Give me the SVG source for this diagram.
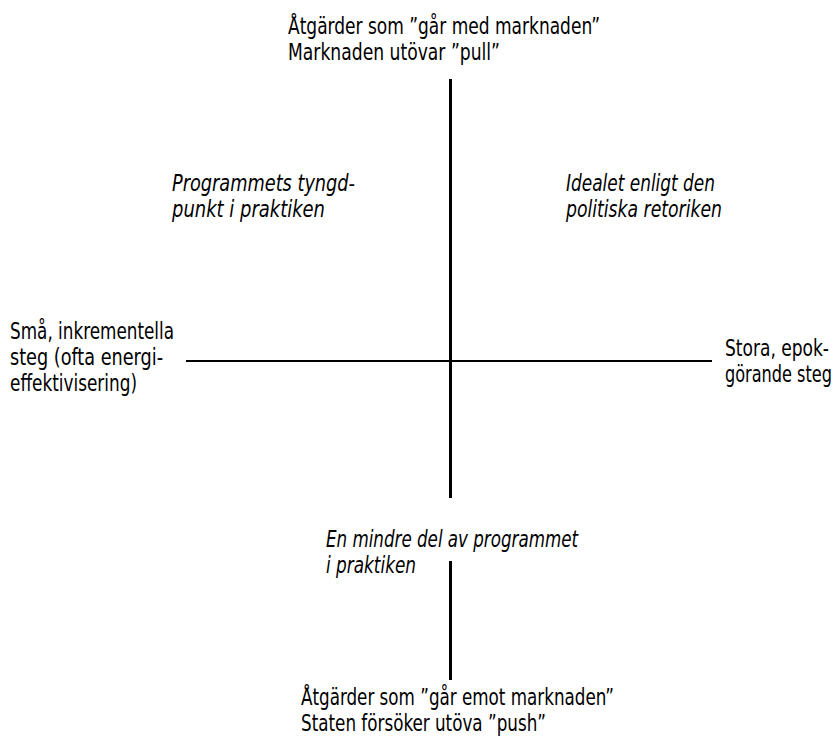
<svg xmlns="http://www.w3.org/2000/svg" width="838" height="740" viewBox="0 0 838 740">
<style>
text{font-family:"DejaVu Sans","Liberation Sans",sans-serif;font-stretch:condensed;font-size:23px;fill:#000}
.i{font-style:italic}
.ax{stroke:#000;fill:none}
</style>
<rect width="838" height="740" fill="#fff"/>
<g id="connectors">
<line class="ax" x1="450.5" y1="79" x2="450.5" y2="498" stroke-width="3"/>
<line class="ax" x1="450.5" y1="561" x2="450.5" y2="680" stroke-width="3"/>
<line class="ax" x1="186" y1="361" x2="712" y2="361" stroke-width="2"/>
</g>
<g id="top">
<text x="288" y="34" textLength="312" lengthAdjust="spacingAndGlyphs">Åtgärder som ”går med marknaden”</text>
<text x="288" y="60" textLength="212" lengthAdjust="spacingAndGlyphs">Marknaden utövar ”pull”</text>
</g>
<g id="topleft">
<text class="i" x="172" y="191" textLength="183" lengthAdjust="spacingAndGlyphs">Programmets tyngd-</text>
<text class="i" x="172" y="217" textLength="153" lengthAdjust="spacingAndGlyphs">punkt i praktiken</text>
</g>
<g id="topright">
<text class="i" x="566" y="191" textLength="149" lengthAdjust="spacingAndGlyphs">Idealet enligt den</text>
<text class="i" x="566" y="217" textLength="156" lengthAdjust="spacingAndGlyphs">politiska retoriken</text>
</g>
<g id="left">
<text x="10" y="339" textLength="164" lengthAdjust="spacingAndGlyphs">Små, inkrementella</text>
<text x="10" y="365" textLength="153" lengthAdjust="spacingAndGlyphs">steg (ofta energi-</text>
<text x="10" y="391" textLength="127" lengthAdjust="spacingAndGlyphs">effektivisering)</text>
</g>
<g id="right">
<text x="725" y="356" textLength="104" lengthAdjust="spacingAndGlyphs">Stora, epok-</text>
<text x="725" y="382" textLength="107" lengthAdjust="spacingAndGlyphs">görande steg</text>
</g>
<g id="bottomlabel">
<text class="i" x="326" y="547" textLength="252" lengthAdjust="spacingAndGlyphs">En mindre del av programmet</text>
<text class="i" x="326" y="573" textLength="90" lengthAdjust="spacingAndGlyphs">i praktiken</text>
</g>
<g id="bottom">
<text x="301" y="705" textLength="313" lengthAdjust="spacingAndGlyphs">Åtgärder som ”går emot marknaden”</text>
<text x="301" y="731" textLength="245" lengthAdjust="spacingAndGlyphs">Staten försöker utöva ”push”</text>
</g>
</svg>
